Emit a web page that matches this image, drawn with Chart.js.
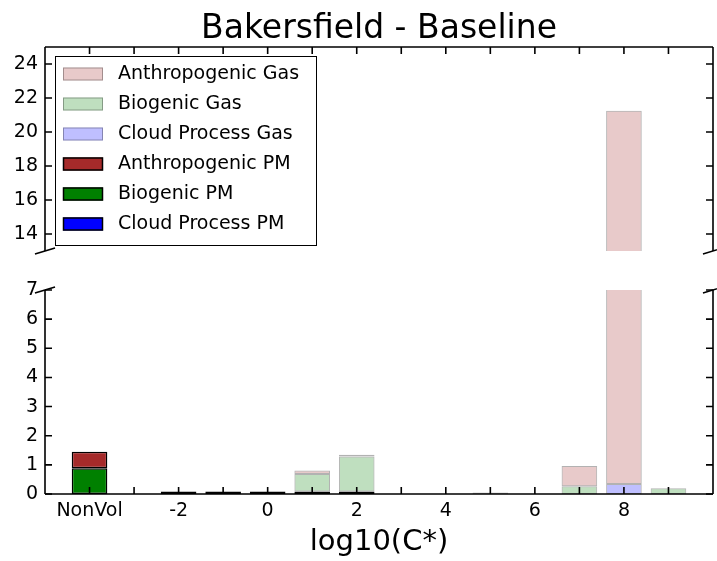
<!DOCTYPE html>
<html>
<head>
<meta charset="utf-8">
<title>Bakersfield - Baseline</title>
<script src="https://cdn.jsdelivr.net/npm/chart.js@4"></script>
<style>
  body { margin: 0; background: #fff; }
  #wrap { position: relative; width: 717px; height: 561px; }
  .panel { position: absolute; left: 0; width: 717px; }
  #upper { top: 0; height: 260px; }
  #lower { top: 260px; height: 301px; }
</style>
</head>
<body>
<div id="wrap">
  <div class="panel" id="upper"><canvas id="upperChart"></canvas></div>
  <div class="panel" id="lower"><canvas id="lowerChart"></canvas></div>
</div>
<script>
// volatility bins, log10(C*)
const categories = ["NonVol", "-3", "-2", "-1", "0", "1", "2", "3", "4", "5", "6", "7", "8", "9"];

// mass per bin, stacked bottom to top in this order
const biogenicPM       = [0.88, 0, 0.05, 0.05, 0.05, 0.05, 0.05, 0, 0, 0, 0, 0, 0, 0];
const anthropogenicPM  = [0.57, 0, 0, 0, 0, 0, 0, 0, 0, 0, 0, 0, 0, 0];
const cloudProcessPM   = [0, 0, 0, 0, 0, 0, 0, 0, 0, 0, 0, 0, 0, 0];
const biogenicGas      = [0, 0, 0, 0, 0, 0.60, 1.20, 0, 0, 0, 0, 0.27, 0, 0.20];
const cloudProcessGas  = [0, 0, 0, 0, 0, 0, 0, 0, 0, 0, 0, 0, 0.34, 0];
const anthropogenicGas = [0, 0, 0, 0, 0, 0.12, 0.06, 0, 0, 0.05, 0, 0.69, 20.91, 0];

// y ticks for the two halves of the broken axis
const upperTicks = [14, 16, 18, 20, 22, 24];
const lowerTicks = [0, 1, 2, 3, 4, 5, 6, 7];

Chart.defaults.font.family = '"DejaVu Sans", sans-serif';
Chart.defaults.color = "#000";

const FONT = '"DejaVu Sans", sans-serif';
const gasEdge = "rgba(0,0,0,0.3)";

function makeDatasets(lowerPanel) {
  const series = [
    { label: "Biogenic PM", data: biogenicPM, bg: "rgb(0,128,0)", edge: "#000", pm: true },
    { label: "Anthropogenic PM", data: anthropogenicPM, bg: "rgb(165,42,42)", edge: "#000", pm: true },
    { label: "Cloud Process PM", data: cloudProcessPM, bg: "rgb(0,0,255)", edge: "#000", pm: true },
    { label: "Biogenic Gas", data: biogenicGas, bg: "rgba(0,128,0,0.25)", edge: gasEdge },
    { label: "Cloud Process Gas", data: cloudProcessGas, bg: "rgba(0,0,255,0.25)", edge: gasEdge },
    { label: "Anthropogenic Gas", data: anthropogenicGas, bg: "rgba(165,42,42,0.25)", edge: gasEdge },
  ];
  return series.map((s) => ({
    label: s.label,
    // empty bins are skipped so they leave no mark
    data: s.data.map((v, i) => ({ x: i, y: v === 0 ? null : v })),
    backgroundColor: s.bg,
    borderColor: s.edge,
    borderWidth: s.pm ? 1.5 : 1,
    borderSkipped: false,
    // tiny PM amounts still show as a dark sliver on the lower axis
    minBarLength: s.pm && lowerPanel ? 2.5 : 0,
    barPercentage: 0.8,
    categoryPercentage: 1.0,
    clip: 0,
  }));
}

// legend rows listed gas first, then PM
const legendOrder = [5, 3, 4, 1, 0, 2];

// spines, inward ticks and the little diagonal break marks
const framePlugin = {
  id: "frame",
  afterDraw(chart, args, opts) {
    const { ctx, chartArea: a } = chart;
    const x = chart.scales.x;
    const y = chart.scales.y;
    const edge = opts.side === "top" ? a.top : a.bottom;
    const open = opts.side === "top" ? a.bottom : a.top;
    const dir = opts.side === "top" ? 1 : -1;
    const len = 7;

    ctx.save();
    ctx.strokeStyle = "#000";
    ctx.lineWidth = 1.6;
    ctx.beginPath();
    ctx.moveTo(a.left, a.top);
    ctx.lineTo(a.left, a.bottom);
    ctx.moveTo(a.right, a.top);
    ctx.lineTo(a.right, a.bottom);
    ctx.moveTo(a.left, edge);
    ctx.lineTo(a.right, edge);
    ctx.stroke();

    ctx.beginPath();
    categories.forEach((c, i) => {
      const px = x.getPixelForValue(i);
      ctx.moveTo(px, edge);
      ctx.lineTo(px, edge + dir * len);
    });
    y.ticks.forEach((t) => {
      const py = y.getPixelForValue(t.value);
      ctx.moveTo(a.left, py);
      ctx.lineTo(a.left + len, py);
      ctx.moveTo(a.right, py);
      ctx.lineTo(a.right - len, py);
    });
    ctx.stroke();

    const dx = 0.015 * (a.right - a.left);
    const dy = 0.015 * (a.bottom - a.top);
    ctx.beginPath();
    [a.left, a.right].forEach((cx) => {
      ctx.moveTo(cx - dx, open + dy);
      ctx.lineTo(cx + dx, open - dy);
    });
    ctx.stroke();
    ctx.restore();
  },
};

const boxLegendPlugin = {
  id: "boxLegend",
  afterDraw(chart) {
    const { ctx, chartArea: a } = chart;
    const left = a.left + 10;
    const top = a.top + 9;
    const w = 261;
    const h = 189;
    ctx.save();
    ctx.fillStyle = "#fff";
    ctx.fillRect(left, top, w, h);
    ctx.strokeStyle = "#000";
    ctx.lineWidth = 1;
    ctx.strokeRect(left + 0.5, top + 0.5, w, h);
    ctx.font = "19px " + FONT;
    ctx.textBaseline = "middle";
    legendOrder.forEach((di, row) => {
      const ds = chart.data.datasets[di];
      const cy = top + 18 + row * 30;
      ctx.fillStyle = ds.backgroundColor;
      ctx.fillRect(left + 8, cy - 6.5, 40, 13);
      ctx.strokeStyle = ds.borderColor;
      ctx.lineWidth = di < 3 ? 1.5 : 1;
      ctx.strokeRect(left + 8.5, cy - 6, 39, 12);
      ctx.fillStyle = "#000";
      ctx.fillText(ds.label, left + 63, cy);
    });
    ctx.restore();
  },
};

function yScale(min, max, ticks) {
  return {
    stacked: true,
    min: min,
    max: max,
    afterBuildTicks: (s) => { s.ticks = ticks.map((v) => ({ value: v })); },
    afterFit: (s) => {
      s.width = 45;
      s.paddingTop = 0;
      s.paddingBottom = 0;
    },
    grid: { display: false, drawTicks: false },
    border: { display: false },
    ticks: { padding: 7, font: { size: 19 }, color: "#000" },
  };
}

function xScale(shown) {
  return {
    type: "linear",
    stacked: true,
    offset: false,
    min: -1,
    max: 14,
    display: shown,
    afterBuildTicks: (s) => { s.ticks = categories.map((c, i) => ({ value: i })); },
    afterFit: (s) => {
      if (shown) s.height = 67;
      s.paddingLeft = 0;
      s.paddingRight = 0;
    },
    grid: { display: false, drawTicks: false, offset: false },
    border: { display: false },
    ticks: {
      padding: 6,
      autoSkip: false,
      maxRotation: 0,
      font: { size: 19 },
      color: "#000",
      callback: (v) => (v % 2 === 0 ? categories[v] : ""),
    },
    title: {
      display: shown,
      text: "log10(C*)",
      font: { size: 29 },
      color: "#000",
      padding: { top: 0, bottom: 1 },
    },
  };
}

new Chart(document.getElementById("upperChart"), {
  type: "bar",
  data: { datasets: makeDatasets(false) },
  options: {
    responsive: true,
    maintainAspectRatio: false,
    animation: false,
    layout: { padding: { top: 0, right: 4, bottom: 9, left: 0 } },
    scales: { x: xScale(false), y: yScale(13, 25, upperTicks) },
    plugins: {
      legend: { display: false },
      tooltip: { enabled: false },
      title: {
        display: true,
        fullSize: false,
        text: "Bakersfield - Baseline",
        font: { size: 33, weight: "normal", lineHeight: 1.0 },
        color: "#000",
        padding: { top: 12.5, bottom: 1.5 },
      },
      frame: { side: "top" },
    },
  },
  plugins: [framePlugin, boxLegendPlugin],
});

new Chart(document.getElementById("lowerChart"), {
  type: "bar",
  data: { datasets: makeDatasets(true) },
  options: {
    responsive: true,
    maintainAspectRatio: false,
    animation: false,
    layout: { padding: { top: 30, right: 4, bottom: 0, left: 0 } },
    scales: { x: xScale(true), y: yScale(0, 7, lowerTicks) },
    plugins: {
      legend: { display: false },
      tooltip: { enabled: false },
      frame: { side: "bottom" },
    },
  },
  plugins: [framePlugin],
});
</script>
</body>
</html>
